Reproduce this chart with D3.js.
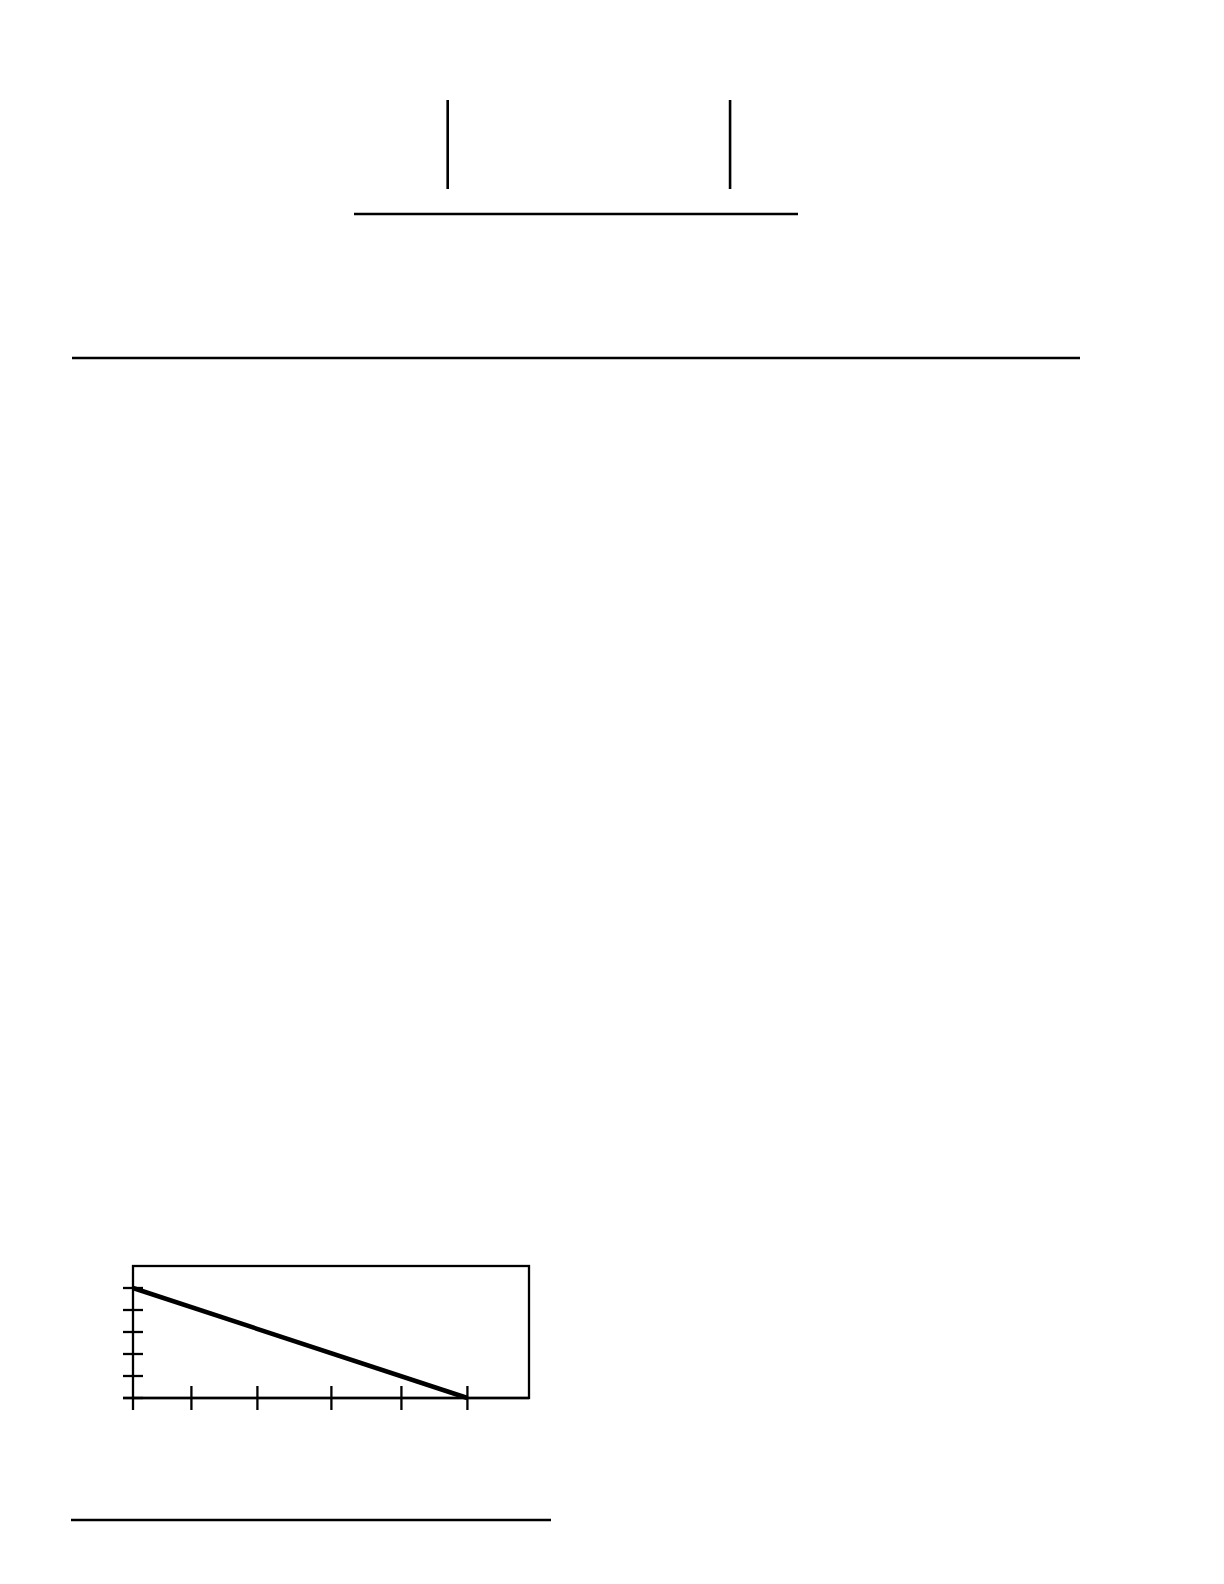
<!DOCTYPE html>
<html>
<head>
<meta charset="utf-8">
<script src="https://cdn.jsdelivr.net/npm/d3@7"></script>
<style>
  body { margin: 0; background: #fff; }
  svg { display: block; }
</style>
</head>
<body>
<div class="content"></div>
<script>
// top figure: two markers on a baseline (fractions of baseline length)
var topMarkers = [0.211, 0.847];

// bottom chart data
var xTicks = [0, 0.885, 1.885, 3.006, 4.067, 5.067];
var yTicks = [0, 1, 2, 3, 4, 5];
var lineX = [0, 5.067];
var lineY = [5, 0];

var svg = d3.select('.content').append('svg')
  .attr('width', 1224)
  .attr('height', 1584);

//////// top figure ////////
var topScale = d3.scaleLinear().domain([0, 1]).range([354, 798]);
var topG = svg.append('g');

topG.append('line')
  .attr('x1', topScale(0)).attr('x2', topScale(1))
  .attr('y1', 214).attr('y2', 214)
  .style('stroke', '#000').style('stroke-width', 2.6);

topG.selectAll('.marker')
  .data(topMarkers)
  .enter().append('line')
  .attr('class', 'marker')
  .attr('x1', function(d) { return topScale(d); })
  .attr('x2', function(d) { return topScale(d); })
  .attr('y1', 100).attr('y2', 189)
  .style('stroke', '#000').style('stroke-width', 2.6);

//////// separator rules ////////
svg.append('line')
  .attr('x1', 72).attr('x2', 1080)
  .attr('y1', 358).attr('y2', 358)
  .style('stroke', '#000').style('stroke-width', 2.4);

svg.append('line')
  .attr('x1', 71).attr('x2', 551)
  .attr('y1', 1520).attr('y2', 1520)
  .style('stroke', '#000').style('stroke-width', 2.4);

//////// bottom chart ////////
var x = d3.scaleLinear().domain([0, 6]).range([133, 529]);
var y = d3.scaleLinear().domain([0, 6]).range([1398, 1266]);

var chart = svg.append('g');

// frame
chart.append('rect')
  .attr('x', x(0)).attr('y', y(6))
  .attr('width', x(6) - x(0)).attr('height', y(0) - y(6))
  .style('fill', 'none').style('stroke', '#000').style('stroke-width', 2.3);

// x axis extends a bit to the left
chart.append('line')
  .attr('x1', x(0) - 10).attr('x2', x(6))
  .attr('y1', y(0)).attr('y2', y(0))
  .style('stroke', '#000').style('stroke-width', 2.3);

// y ticks cross the left edge
chart.selectAll('.ytick')
  .data(yTicks)
  .enter().append('line')
  .attr('class', 'ytick')
  .attr('x1', x(0) - 10).attr('x2', x(0) + 10)
  .attr('y1', function(d) { return y(d); })
  .attr('y2', function(d) { return y(d); })
  .style('stroke', '#000').style('stroke-width', 2.3);

// x ticks cross the bottom edge
chart.selectAll('.xtick')
  .data(xTicks)
  .enter().append('line')
  .attr('class', 'xtick')
  .attr('x1', function(d) { return x(d); })
  .attr('x2', function(d) { return x(d); })
  .attr('y1', function(d) { return d === 0 ? y(0) : y(0) - 12; })
  .attr('y2', y(0) + 12)
  .style('stroke', '#000').style('stroke-width', 2.3);

// the line
var pts = lineX.map(function(d, i) { return [d, lineY[i]]; });
chart.append('path')
  .datum(pts)
  .attr('d', d3.line()
    .x(function(d) { return x(d[0]); })
    .y(function(d) { return y(d[1]); }))
  .style('fill', 'none')
  .style('stroke', '#000')
  .style('stroke-width', 4.5);
</script>
</body>
</html>
